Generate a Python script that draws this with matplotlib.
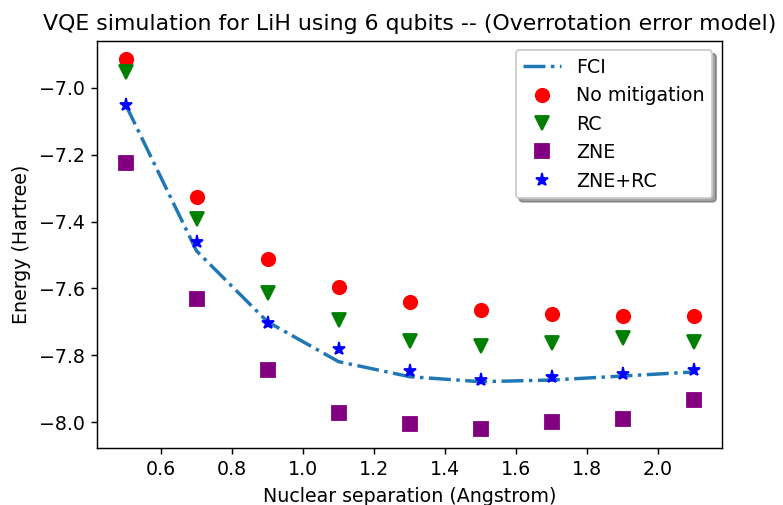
"""VQE energies for LiH with different error mitigation strategies."""

import numpy as np
import matplotlib
matplotlib.use("Agg")
import matplotlib.pyplot as plt

# Bond distances (Angstrom)
distances = [0.5, 0.7, 0.9, 1.1, 1.3, 1.5, 1.7, 1.9, 2.1]

# Energies (Hartree)
fci = [-7.050, -7.488, -7.700, -7.819, -7.864, -7.879, -7.874, -7.862, -7.850]
no_mitigation = [-6.914, -7.326, -7.512, -7.597, -7.642, -7.665, -7.677, -7.682, -7.682]
rc = [-6.952, -7.393, -7.613, -7.694, -7.756, -7.772, -7.764, -7.749, -7.759]
zne = [-7.224, -7.632, -7.844, -7.973, -8.006, -8.021, -8.000, -7.991, -7.934]
zne_rc = [-7.050, -7.461, -7.704, -7.782, -7.847, -7.874, -7.864, -7.856, -7.844]


def main():
    plt.rcParams["font.size"] = 10.5

    fig = plt.figure(figsize=(6.03, 3.885), dpi=130)
    ax = fig.add_axes([0.124, 0.1135, 0.797, 0.806])

    ax.plot(distances, fci, "-.", color="tab:blue", linewidth=1.9, label="FCI")
    ax.plot(distances, no_mitigation, "o", color="red", markersize=7.4,
            linestyle="none", label="No mitigation")
    ax.plot(distances, rc, "v", color="green", markersize=7.4,
            linestyle="none", label="RC")
    ax.plot(distances, zne, "s", color="purple", markersize=7.4,
            linestyle="none", label="ZNE")
    ax.plot(distances, zne_rc, "*", color="blue", markersize=7.4,
            linestyle="none", label="ZNE+RC")

    ax.set_xlabel("Nuclear separation (Angstrom)")
    ax.set_ylabel("Energy (Hartree)")
    ax.set_title("VQE simulation for LiH using 6 qubits -- (Overrotation error model)",
                 fontsize=12.2)
    ax.legend(loc="upper right", shadow=True)

    fig.savefig("out.png", dpi=130)


if __name__ == "__main__":
    main()
